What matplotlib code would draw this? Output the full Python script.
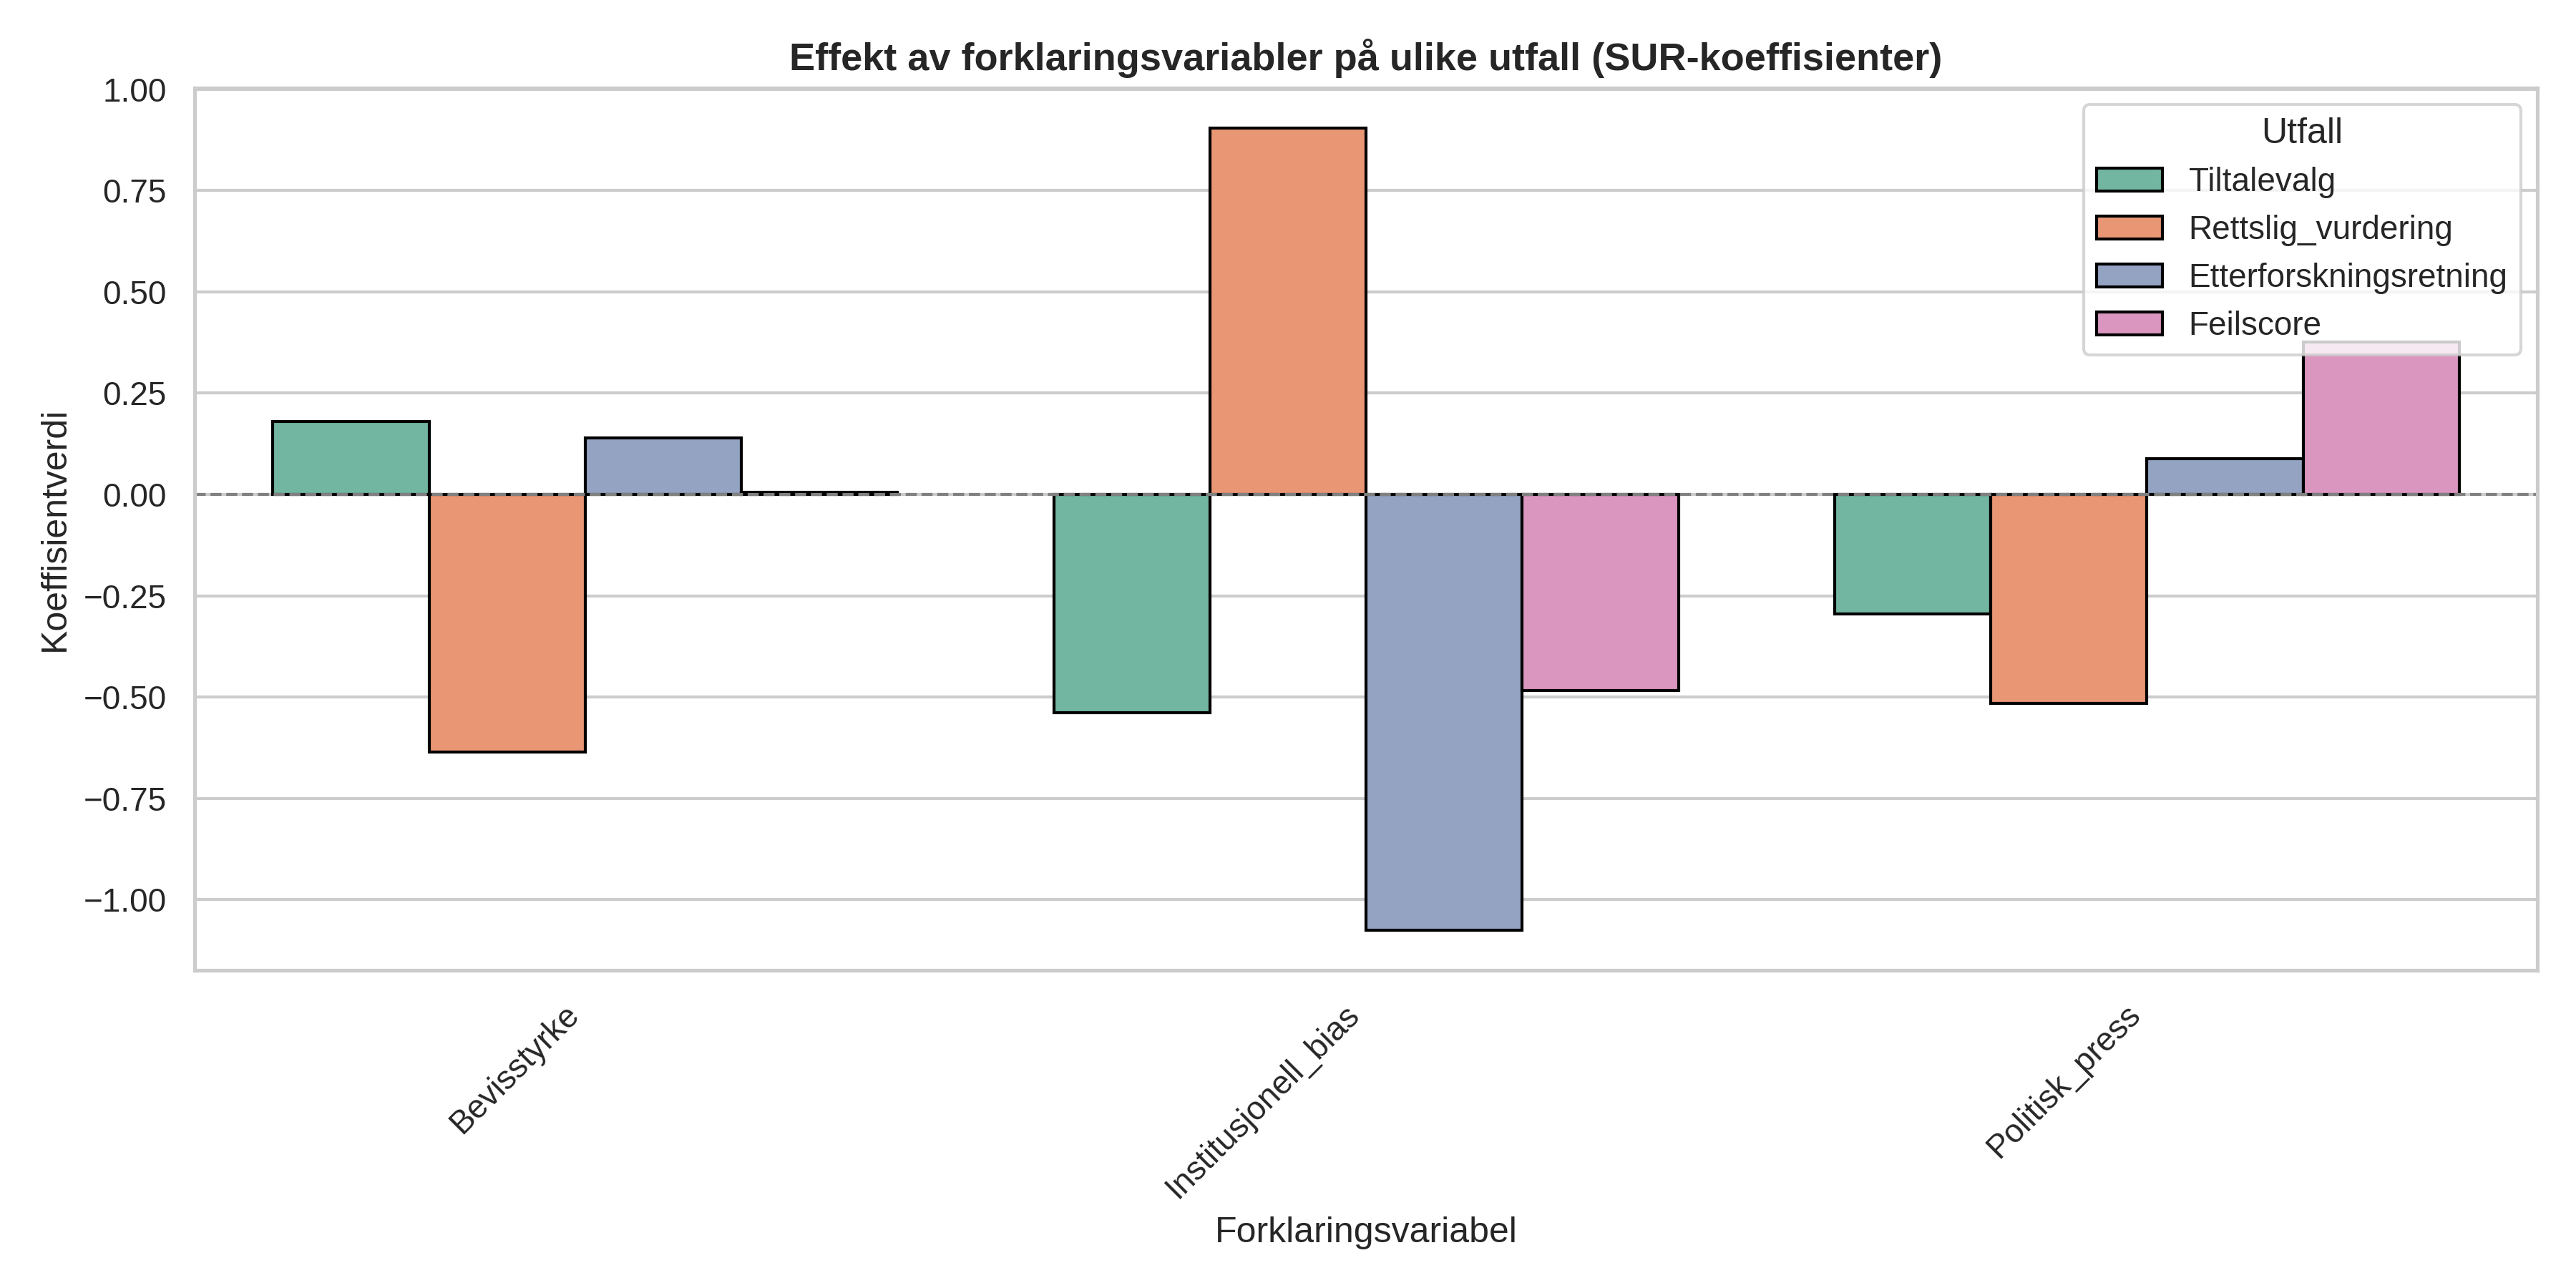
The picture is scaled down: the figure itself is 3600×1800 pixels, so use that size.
import numpy as np
import pandas as pd
import seaborn as sns
import matplotlib
matplotlib.use('Agg')
import matplotlib.pyplot as plt

variables = ['Bevisstyrke', 'Institusjonell_bias', 'Politisk_press']
outcomes = ['Tiltalevalg', 'Rettslig_vurdering', 'Etterforskningsretning', 'Feilscore']
# coefficients per outcome, in the order of variables
tiltalevalg = [0.18, -0.539, -0.295]
rettslig = [-0.635, 0.904, -0.515]
etterforskning = [0.14, -1.076, 0.088]
feilscore = [0.005, -0.484, 0.377]

rows = []
for name, vals in zip(outcomes, [tiltalevalg, rettslig, etterforskning, feilscore]):
    for var, v in zip(variables, vals):
        rows.append({'Forklaringsvariabel': var, 'Utfall': name, 'Koeffisient': v})
df = pd.DataFrame(rows)

sns.set_theme(style='whitegrid')
plt.rcParams['font.family'] = ['Liberation Sans', 'DejaVu Sans']

fig, ax = plt.subplots(figsize=(12, 6), dpi=300)
sns.barplot(data=df, x='Forklaringsvariabel', y='Koeffisient', hue='Utfall',
            hue_order=outcomes, order=variables, palette='Set2',
            edgecolor='black', ax=ax)
ax.axhline(0, color='gray', linestyle='--', linewidth=1)
ax.set_title('Effekt av forklaringsvariabler på ulike utfall (SUR-koeffisienter)',
             fontweight='bold', fontsize=13)
ax.set_xlabel('Forklaringsvariabel')
ax.set_ylabel('Koeffisientverdi')
plt.setp(ax.get_xticklabels(), rotation=45, ha='right')
ax.legend(title='Utfall', loc='upper right')
plt.tight_layout()
plt.savefig('out.png')
